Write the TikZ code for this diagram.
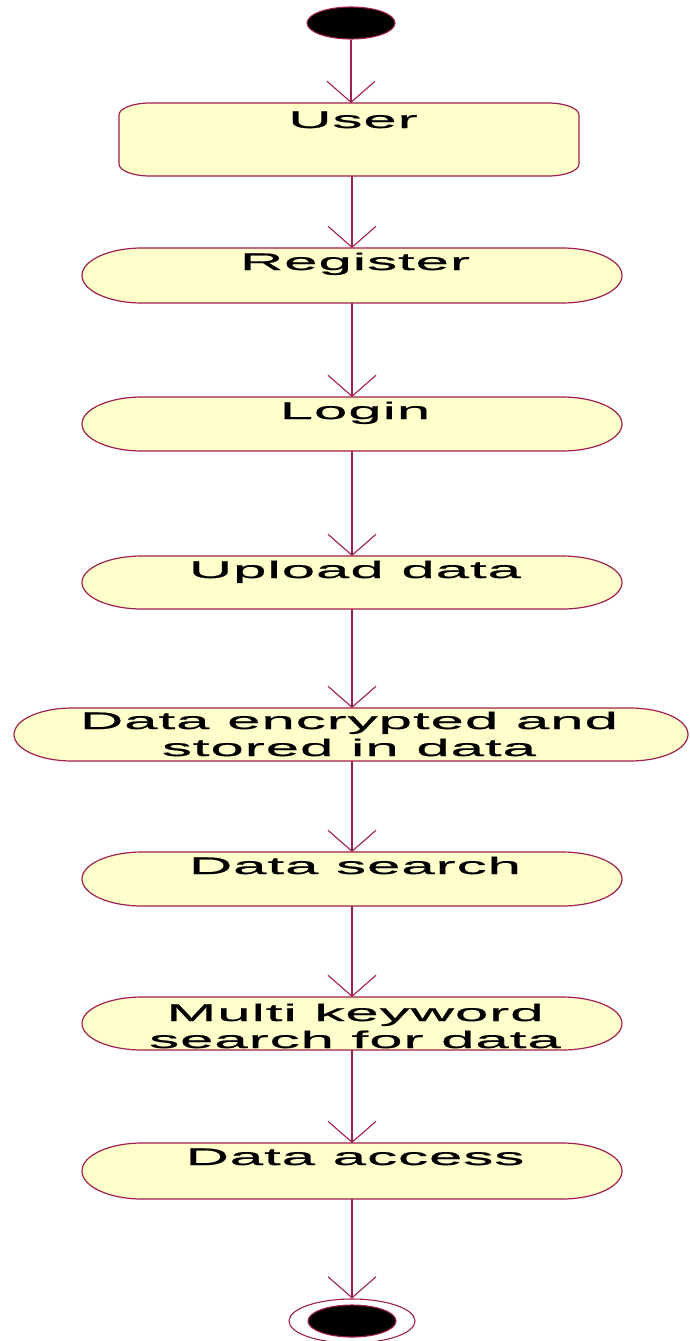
\documentclass[tikz,border=0pt]{standalone}
\usepackage{fontspec}
\setmainfont{Liberation Sans}[FakeStretch=2.5, LetterSpace=4, FakeBold=0.8]
\usetikzlibrary{arrows.meta,shapes.geometric,calc}
\definecolor{edge}{HTML}{A0204E}
\definecolor{actfill}{HTML}{FFFFCC}
\tikzset{
  frame/.style={inner sep=0pt, outer sep=0pt, draw=none, minimum width=540pt},
  lbl/.style={inner sep=0pt, font=\fontsize{24}{27}\selectfont, align=center, anchor=base},
  flow/.style={draw=edge, line width=1.1pt, -{Straight Barb[length=21pt,width=48pt,line width=1.1pt]}},
  outline/.style={draw=edge, fill=actfill, line width=1.2pt},
  dot/.style={ellipse, draw=edge, fill=black, line width=1.1pt, minimum width=88pt, minimum height=32pt, inner sep=0pt},
}
% activity outline: flat top and bottom with half-elliptic ends
\newcommand\capsule[2]{%
  \path[outline] let \p1=(#1.north west), \p2=(#1.south east), \n1={(\y1-\y2)/2} in
    (\x1+#2pt,\y1) -- (\x2-#2pt,\y1)
    arc[start angle=90, end angle=-90, x radius=#2pt, y radius=\n1]
    -- (\x1+#2pt,\y2)
    arc[start angle=270, end angle=90, x radius=#2pt, y radius=\n1] -- cycle;}
% box with elliptic corners
\newcommand\roundbox[3]{%
  \path[outline] let \p1=(#1.north west), \p2=(#1.south east) in
    (\x1+#2pt,\y1) -- (\x2-#2pt,\y1)
    arc[start angle=90, end angle=0, x radius=#2pt, y radius=#3pt]
    -- (\x2,\y2+#3pt)
    arc[start angle=0, end angle=-90, x radius=#2pt, y radius=#3pt]
    -- (\x1+#2pt,\y2)
    arc[start angle=270, end angle=180, x radius=#2pt, y radius=#3pt]
    -- (\x1,\y1-#3pt)
    arc[start angle=180, end angle=90, x radius=#2pt, y radius=#3pt] -- cycle;}
\begin{document}
\begin{tikzpicture}[x=1pt,y=-1pt]
\fill[white] (0,0) rectangle (689,1341);
\useasboundingbox (0,0) rectangle (689,1341);

% initial state
\node[dot] (start) at (351,23) {};

% user
\node[frame, minimum width=460pt, minimum height=73pt] (user) at (349,139.5) {};
\roundbox{user}{31}{12}

% activities
\node[frame, minimum height=55pt] (register) at (352,275.5) {};
\capsule{register}{60}

\node[frame, minimum height=54pt] (login) at (352,424) {};
\capsule{login}{60}

\node[frame, minimum height=53pt] (upload) at (352,582.5) {};
\capsule{upload}{60}

\node[frame, minimum width=674pt, minimum height=53pt] (encrypt) at (351,734.5) {};
\capsule{encrypt}{58}

\node[frame, minimum height=54pt] (search) at (352,879) {};
\capsule{search}{60}

\node[frame, minimum height=53pt] (multi) at (352,1023.5) {};
\capsule{multi}{60}

\node[frame, minimum height=56pt] (access) at (352,1171) {};
\capsule{access}{60}

% final state
\node[ellipse, draw=edge, fill=white, line width=1.1pt, minimum width=126pt, minimum height=44pt, inner sep=0pt] (finish) at (352,1321) {};
\node[dot] (finish-dot) at (352,1321) {};

% transitions
\draw[flow] (start.south) -- (start.south |- user.north);
\draw[flow] (register.north |- user.south) -- (register.north);
\draw[flow] (register.south) -- (login.north);
\draw[flow] (login.south) -- (upload.north);
\draw[flow] (upload.south) -- (upload.south |- encrypt.north);
\draw[flow] (upload.south |- encrypt.south) -- (search.north);
\draw[flow] (search.south) -- (multi.north);
\draw[flow] (multi.south) -- (access.north);
\draw[flow] (access.south) -- (finish.north);

% labels (base anchor sits on the last line)
\node[lbl] (user-t) at ([xshift=4pt,yshift=-25pt]user.north) {User};
\node[lbl] (register-t) at ([xshift=3pt,yshift=-22pt]register.north) {Register};
\node[lbl] (login-t) at ([xshift=3pt,yshift=-22pt]login.north) {Login};
\node[lbl] (upload-t) at ([xshift=3pt,yshift=-22pt]upload.north) {Upload data};
\node[lbl] (encrypt-t) at ([xshift=-2pt,yshift=-48pt]encrypt.north) {Data encrypted and\\stored in data};
\node[lbl] (search-t) at ([xshift=3pt,yshift=-22pt]search.north) {Data search};
\node[lbl] (multi-t) at ([xshift=3pt,yshift=-51pt]multi.north) {Multi keyword\\search for data};
\node[lbl] (access-t) at ([xshift=3pt,yshift=-22pt]access.north) {Data access};
\end{tikzpicture}
\end{document}
